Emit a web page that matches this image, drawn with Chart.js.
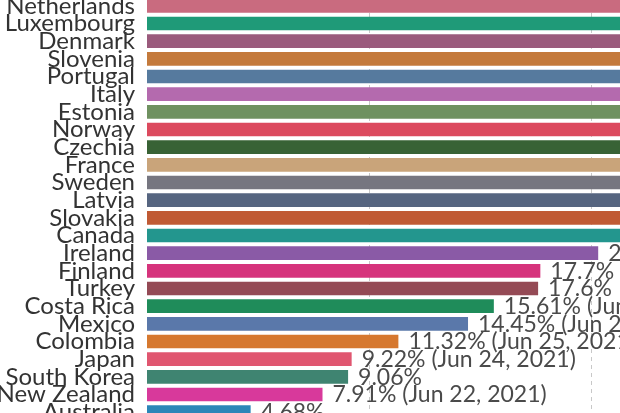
<!DOCTYPE html>
<html>
<head>
<meta charset="utf-8">
<script src="https://cdn.jsdelivr.net/npm/chart.js@4"></script>
<style>
  html, body { margin: 0; padding: 0; background: #fff; overflow: hidden; }
  #wrap { position: relative; width: 620px; height: 413px; overflow: hidden; }
  #box { position: absolute; left: 0; top: -3.5px; width: 620px; height: 424px; }
</style>
</head>
<body>
<div id="wrap"><div id="box"><canvas id="chartBar"></canvas></div></div>
<script>
const countries = ["Netherlands", "Luxembourg", "Denmark", "Slovenia", "Portugal", "Italy", "Estonia", "Norway",
  "Czechia", "France", "Sweden", "Latvia", "Slovakia", "Canada", "Ireland", "Finland", "Turkey", "Costa Rica",
  "Mexico", "Colombia", "Japan", "South Korea", "New Zealand", "Australia"];

// top rows run off the right edge of the picture, so those values are only rough guesses
const shares = [30.5, 29.8, 29.1, 28.4, 27.9, 27.3, 26.8, 26.1, 25.6, 25.0, 24.3, 23.6, 22.9, 21.9,
  20.3, 17.7, 17.6, 15.61, 14.45, 11.32, 9.22, 9.06, 7.91, 4.68];

const dates = ["", "", "", "", "", "", "", "", "", "", "", "", "", "",
  "", "", "", "Jun 24, 2021", "Jun 25, 2021", "Jun 25, 2021", "Jun 24, 2021", "", "Jun 22, 2021", ""];

const barColors = ["#c96b7f", "#1f9a78", "#9a5a7c", "#c47a3c", "#567a9e", "#b46aae", "#6f9160", "#dc4a5e",
  "#386235", "#c9a47a", "#767680", "#566580", "#c05a34", "#23968e", "#8a5aa6", "#d6337c", "#944a55",
  "#1f8c5a", "#5a78aa", "#d6782f", "#e05670", "#3f8471", "#d8399b", "#2b86b8"];

const gridSteps = [0, 10, 20];

const valueLabels = {
  id: "valueLabels",
  afterDatasetsDraw(chart) {
    const ctx = chart.ctx;
    const meta = chart.getDatasetMeta(0);
    ctx.save();
    ctx.font = "23px Lato";
    ctx.fillStyle = "#4a4a4a";
    ctx.textBaseline = "middle";
    ctx.textAlign = "left";
    meta.data.forEach((bar, i) => {
      let txt = shares[i] + "%";
      if (dates[i]) txt += " (" + dates[i] + ")";
      ctx.fillText(txt, bar.x + 10, bar.y + 0.5);
    });
    ctx.restore();
  }
};

// the picture is a crop, so no axis may reserve room for overhanging labels
const noPad = (axis) => {
  axis.paddingTop = 0;
  axis.paddingBottom = 0;
  axis.paddingLeft = 0;
  axis.paddingRight = 0;
};

new Chart(document.querySelector("#chartBar"), {
  type: "bar",
  data: {
    labels: countries,
    datasets: [{
      data: shares,
      backgroundColor: barColors,
      borderWidth: 0,
      categoryPercentage: 1,
      barPercentage: 0.77
    }]
  },
  plugins: [valueLabels],
  options: {
    indexAxis: "y",
    responsive: true,
    maintainAspectRatio: false,
    animation: false,
    layout: { padding: 0 },
    plugins: {
      legend: { display: false },
      tooltip: { enabled: false }
    },
    scales: {
      x: {
        min: 0,
        max: 21.28,
        afterBuildTicks: (axis) => { axis.ticks = gridSteps.map(v => ({ value: v })); },
        afterFit: (axis) => { noPad(axis); axis.height = 0; },
        ticks: { display: false },
        grid: {
          drawTicks: false,
          color: (c) => c.tick && c.tick.value === 0 ? "rgba(0,0,0,0)" : "#c8c8c8",
          lineWidth: 1
        },
        border: { display: false, dash: [4, 4] }
      },
      y: {
        afterFit: (axis) => { noPad(axis); axis.width = 146.5; },
        ticks: {
          font: { family: "Lato", size: 24 },
          color: "#333",
          padding: 11.5,
          autoSkip: false
        },
        grid: { display: false, drawTicks: false },
        border: { display: false }
      }
    }
  }
});
</script>
</body>
</html>
